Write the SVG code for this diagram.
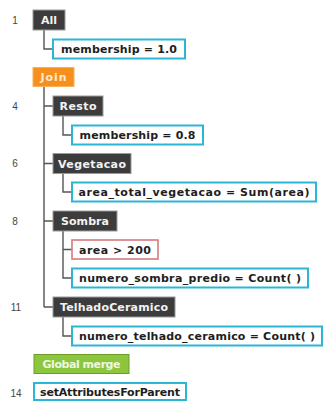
<svg xmlns="http://www.w3.org/2000/svg" width="325" height="401" viewBox="0 0 325 401">
  <style>
    .bg { fill: #ffffff; }
    .num { font-family: "Liberation Sans", Arial, sans-serif; font-size: 10px; fill: #444444; text-anchor: middle; }
    .lbl { font-family: "DejaVu Sans", Verdana, sans-serif; font-weight: bold; font-size: 11px; text-anchor: middle; }
    .dark rect { fill: #3c3c3c; stroke: #9a9a9a; stroke-width: 1; }
    .dark text { fill: #f2f2f2; }
    .join rect { fill: #f5901c; stroke: #f8b060; stroke-width: 1; }
    .join text { fill: #fde8d0; }
    .merge rect { fill: #8cc63e; stroke: #6e9e2a; stroke-width: 1; }
    .merge text { fill: #eef7e0; }
    .attr rect { fill: #ffffff; stroke: #2cb6d6; stroke-width: 2; }
    .attr text { fill: #1e1e1e; }
    .cond rect { fill: #ffffff; stroke: #d47a80; stroke-width: 1.6; }
    .cond text { fill: #1e1e1e; }
    .conn path { fill: none; stroke: #555555; stroke-width: 1.4; }
  </style>
  <rect class="bg" x="0" y="0" width="325" height="401"/>

  <!-- line numbers -->
  <g id="line-numbers">
    <text class="num" x="15" y="24">1</text>
    <text class="num" x="15" y="110">4</text>
    <text class="num" x="15" y="167">6</text>
    <text class="num" x="15" y="225">8</text>
    <text class="num" x="16" y="311">11</text>
    <text class="num" x="16" y="397">14</text>
  </g>

  <!-- tree connectors -->
  <g id="connectors" class="conn">
    <path d="M44,30 V49 H53"/>
    <path d="M44,87 V307 M44,106 H53 M44,163.5 H53 M44,221 H53 M44,307 H53"/>
    <path d="M63,116 V135 H72"/>
    <path d="M63,173.5 V192 H72"/>
    <path d="M63,231 V278 H72 M63,249.5 H72"/>
    <path d="M63,317 V336 H72"/>
  </g>

  <g id="node-all" class="dark">
    <rect x="33" y="10" width="32" height="20"/>
    <text class="lbl" x="49" y="24" textLength="16" lengthAdjust="spacing">All</text>
  </g>
  <g id="node-membership-1" class="attr">
    <rect x="53" y="39.5" width="132" height="19"/>
    <text class="lbl" x="119" y="53" textLength="116" lengthAdjust="spacing">membership = 1.0</text>
  </g>
  <g id="node-join" class="join">
    <rect x="33" y="67.5" width="41" height="19"/>
    <text class="lbl" x="53.5" y="81" textLength="26" lengthAdjust="spacing">Join</text>
  </g>
  <g id="node-resto" class="dark">
    <rect x="53" y="96" width="50" height="20"/>
    <text class="lbl" x="78" y="110" textLength="37" lengthAdjust="spacing">Resto</text>
  </g>
  <g id="node-membership-08" class="attr">
    <rect x="72" y="125.5" width="131" height="19"/>
    <text class="lbl" x="137.5" y="139" textLength="116" lengthAdjust="spacing">membership = 0.8</text>
  </g>
  <g id="node-vegetacao" class="dark">
    <rect x="53" y="153.5" width="78" height="20"/>
    <text class="lbl" x="92" y="167.5" textLength="68" lengthAdjust="spacing">Vegetacao</text>
  </g>
  <g id="node-area-total" class="attr">
    <rect x="72" y="182.5" width="244" height="19"/>
    <text class="lbl" x="194" y="196" textLength="231" lengthAdjust="spacing">area_total_vegetacao = Sum(area)</text>
  </g>
  <g id="node-sombra" class="dark">
    <rect x="53" y="211" width="64" height="20"/>
    <text class="lbl" x="85" y="225" textLength="48" lengthAdjust="spacing">Sombra</text>
  </g>
  <g id="node-area-cond" class="cond">
    <rect x="72" y="240" width="86" height="19"/>
    <text class="lbl" x="115" y="253.5" textLength="72" lengthAdjust="spacing">area &gt; 200</text>
  </g>
  <g id="node-numero-sombra" class="attr">
    <rect x="72" y="268.5" width="236" height="19"/>
    <text class="lbl" x="190" y="282" textLength="222" lengthAdjust="spacing">numero_sombra_predio = Count( )</text>
  </g>
  <g id="node-telhado" class="dark">
    <rect x="53" y="297" width="122" height="20"/>
    <text class="lbl" x="114" y="311" textLength="108" lengthAdjust="spacing">TelhadoCeramico</text>
  </g>
  <g id="node-numero-telhado" class="attr">
    <rect x="72" y="326.5" width="250" height="19"/>
    <text class="lbl" x="197" y="340" textLength="236" lengthAdjust="spacing">numero_telhado_ceramico = Count( )</text>
  </g>
  <g id="node-global-merge" class="merge">
    <rect x="34" y="354.5" width="95" height="19"/>
    <text class="lbl" x="81.5" y="368" textLength="78" lengthAdjust="spacing">Global merge</text>
  </g>
  <g id="node-set-attributes" class="attr">
    <rect x="34" y="383" width="152" height="17"/>
    <text class="lbl" x="110" y="396" textLength="140" lengthAdjust="spacing">setAttributesForParent</text>
  </g>
</svg>
